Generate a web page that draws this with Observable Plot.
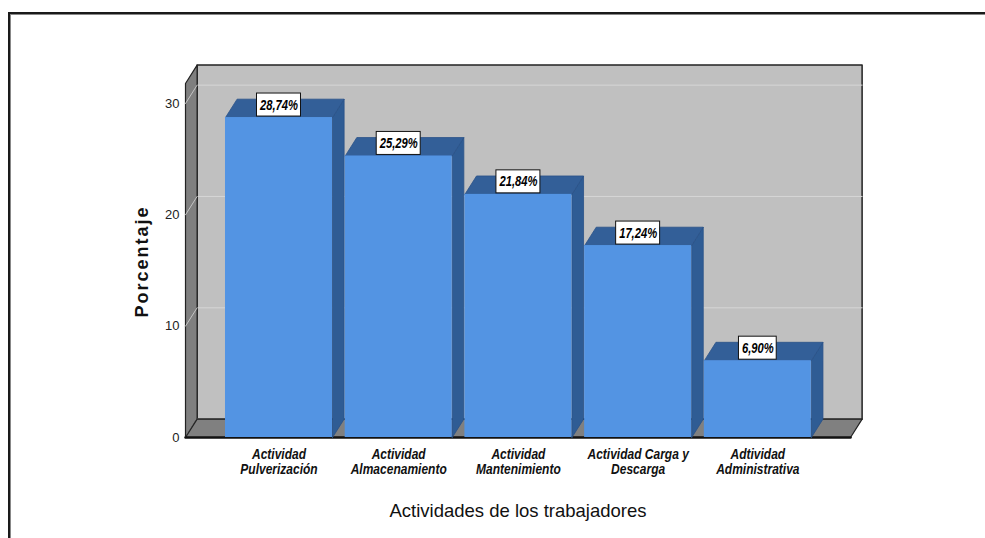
<!DOCTYPE html>
<html><head><meta charset="utf-8">
<script src="https://cdn.jsdelivr.net/npm/d3@7"></script>
<script src="https://cdn.jsdelivr.net/npm/@observablehq/plot@0.6"></script>
<style>
body{margin:0;background:#fff;}
#wrap{position:relative;width:985px;height:538px;overflow:hidden}
#frame{position:absolute;left:8px;top:12px;width:1000px;height:600px;border-top:2px solid #1a1a1a;border-left:2px solid #1a1a1a;box-shadow:inset 1px 1px 0 #888;}
#chart{position:absolute;left:0;top:0}
</style></head><body>
<div id="wrap"><div id="frame"></div><div id="chart"></div></div>
<script>
// ---- data ----
const categories = [
  "Actividad\nPulverización",
  "Actividad\nAlmacenamiento",
  "Actividad\nMantenimiento",
  "Actividad Carga y\nDescarga",
  "Adtividad\nAdministrativa"
];
const values = [28.74, 25.29, 21.84, 17.24, 6.90];
const valueLabels = ["28,74%", "25,29%", "21,84%", "17,24%", "6,90%"];
const yTicks = [0, 10, 20, 30];
const xTitle = "Actividades de los trabajadores";
const yTitle = "Porcentaje";

// ---- geometry (3D look) ----
const XL = -0.781, XR = 4.774, YTOP = 31.8;
const DX = 0.097, DY = 1.65, HW = 0.447;
const pxPerX = (850 - 185) / (XR - XL);
const SQ = 0.8; // horizontal squeeze to mimic a narrow font
const sans = '"Liberation Sans", Arial, sans-serif';

const bars = values.map((v, i) => ({i, v, cat: categories[i], lab: valueLabels[i]}));

// measure label widths for boxes
const ctx = document.createElement("canvas").getContext("2d");
ctx.font = `italic bold 14px ${sans}`;
bars.forEach(b => { b.hw = (ctx.measureText(b.lab).width * SQ + 6) / 2 / pxPerX; });

function poly(id, pts) { return pts.concat([pts[0]]).map(([x, y]) => ({id, x, y})); }

const backWall = poly("back", [[XL+DX, DY], [XR+DX, DY], [XR+DX, YTOP+DY], [XL+DX, YTOP+DY]]);
const leftWall = poly("left", [[XL, 0], [XL+DX, DY], [XL+DX, YTOP+DY], [XL, YTOP]]);
const floor = poly("floor", [[XL, 0], [XR, 0], [XR+DX, DY], [XL+DX, DY]]);

const grid = [];
yTicks.forEach(t => {
  grid.push({id: t, x: XL, y: t}, {id: t, x: XL+DX, y: t+DY});
  if (t > 0) grid.push({id: t, x: XR+DX, y: t+DY});
});

const sides = bars.flatMap(b => poly("s"+b.i, [[b.i+HW, 0], [b.i+HW+DX, DY], [b.i+HW+DX, b.v+DY], [b.i+HW, b.v]]));
const tops = bars.flatMap(b => poly("t"+b.i, [[b.i-HW, b.v], [b.i+HW, b.v], [b.i+HW+DX, b.v+DY], [b.i-HW+DX, b.v+DY]]));

const plot = Plot.plot({
  width: 985,
  height: 538,
  style: {background: "transparent", overflow: "visible"},
  x: {type: "linear", domain: [XL, XR], range: [185, 850], axis: null},
  y: {type: "linear", domain: [0, 30], range: [437, 103], axis: null},
  marks: [
    Plot.line(backWall, {x: "x", y: "y", z: "id", fill: "#c0c0c0", stroke: "#222", strokeWidth: 1.5}),
    Plot.line(grid, {x: "x", y: "y", z: "id", stroke: "#d6d6d6", strokeWidth: 1}),
    Plot.line(leftWall, {x: "x", y: "y", z: "id", fill: "#7f7f7f", stroke: "#222", strokeWidth: 1.2}),
    Plot.line(grid.filter(d => d.x <= XL + DX + 1e-9), {x: "x", y: "y", z: "id", stroke: "#c4c4c4", strokeWidth: 1}),
    Plot.line(floor, {x: "x", y: "y", z: "id", fill: "#808080", stroke: "#222", strokeWidth: 1.2}),
    Plot.line([{x: XL, y: 0}, {x: XR, y: 0}], {x: "x", y: "y", stroke: "#111", strokeWidth: 2.5}),
    Plot.line(sides, {x: "x", y: "y", z: "id", fill: "#2f5c94", stroke: "#2a5288", strokeWidth: 0.8}),
    Plot.line(tops, {x: "x", y: "y", z: "id", fill: "#335f98", stroke: "#2a5288", strokeWidth: 0.8}),
    Plot.rect(bars, {x1: d => d.i - HW, x2: d => d.i + HW, y1: 0, y2: "v", fill: "#5394e3"}),
    Plot.rect(bars, {x1: d => d.i - d.hw, x2: d => d.i + d.hw, y1: "v", y2: "v", insetTop: -24, insetBottom: 1, fill: "white", stroke: "#111", strokeWidth: 1}),
    Plot.text(bars, {x: "i", y: "v", text: "lab", dy: -12.5, fontSize: 14, fontWeight: "bold", fontStyle: "italic", fontFamily: sans, fill: "#000"}),
    Plot.text(yTicks, {x: XL, y: d => d, text: d => String(d), dx: -6, textAnchor: "end", fontSize: 13, fontFamily: sans, fill: "#222"}),
    Plot.text(bars, {x: "i", y: 0, text: "cat", dy: 11, lineAnchor: "top", lineHeight: 1.0, fontSize: 15, fontWeight: "bold", fontStyle: "italic", fontFamily: sans, fill: "#111"}),
    Plot.text([xTitle], {x: (XL + XR) / 2, y: 0, text: d => d, dy: 74, fontSize: 18.5, fontFamily: sans, fill: "#111"}),
    Plot.text([yTitle], {x: XL, y: 15.8, text: d => d, dx: -43, rotate: -90, fontSize: 18, fontWeight: "bold", fontFamily: sans, fill: "#111"})
  ]
});

// narrow-font look for bar labels and category labels; spacing for y title
const textGroups = plot.querySelectorAll('g[aria-label="text"]');
[0, 2].forEach(k => {
  textGroups[k].querySelectorAll("text").forEach(t => {
    t.setAttribute("transform", (t.getAttribute("transform") || "") + ` scale(${SQ},1)`);
  });
});
textGroups[4].querySelectorAll("text").forEach(t => t.style.letterSpacing = "2px");

document.getElementById("chart").appendChild(plot);
</script>
</body></html>
